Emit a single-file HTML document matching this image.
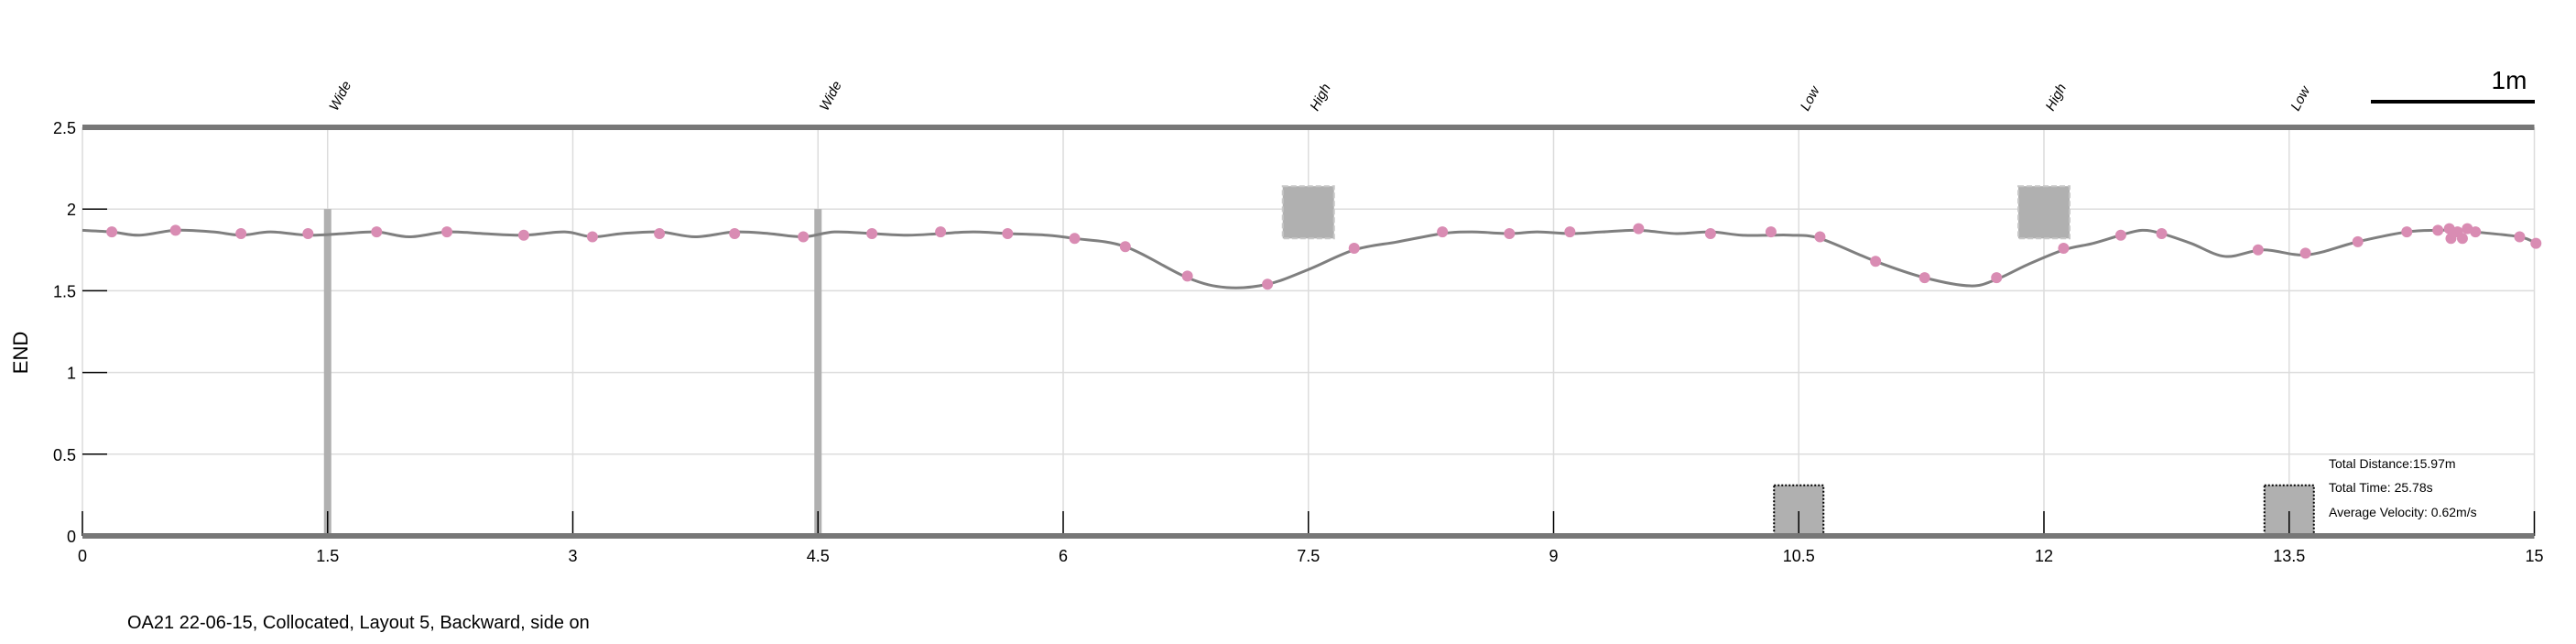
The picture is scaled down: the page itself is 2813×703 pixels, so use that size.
<!DOCTYPE html>
<html><head><meta charset="utf-8"><style>
body{margin:0;background:#fff;}
svg{display:block;font-family:"Liberation Sans",sans-serif;}
</style></head><body>
<svg id="chart" width="2813" height="703" viewBox="0 0 2813 703" xmlns="http://www.w3.org/2000/svg">
<g id="grid"></g>
<g id="obstacles"></g>
<g id="axes"></g>
<g id="series"></g>
<text transform="translate(30,385) rotate(-90)" text-anchor="middle" font-size="22">END</text>
<text x="139" y="686" font-size="20">OA21 22-06-15, Collocated, Layout 5, Backward, side on</text>
<g>
<line x1="2589" y1="111" x2="2768" y2="111" stroke="#000" stroke-width="4"/>
<text x="2740" y="97" font-size="28" text-anchor="middle">1m</text>
</g>
<g font-size="14">
<text x="2543" y="511">Total Distance:15.97m</text>
<text x="2543" y="537">Total Time: 25.78s</text>
<text x="2543" y="564">Average Velocity: 0.62m/s</text>
</g>
</svg>
<script>
const xTicks=[0,1.5,3,4.5,6,7.5,9,10.5,12,13.5,15];
const xTickLabels=["0","1.5","3","4.5","6","7.5","9","10.5","12","13.5","15"];
const yTicks=[0,0.5,1,1.5,2,2.5];
const yTickLabels=["0","0.5","1","1.5","2","2.5"];
const obstacleX=[1.5,4.5,7.5,10.5,12,13.5];
const obstacleLabels=["Wide","Wide","High","Low","High","Low"];
const obstacleTypes=["wide","wide","high","low","high","low"];
const lineX=[0,0.18,0.35,0.57,0.8,0.97,1.15,1.38,1.6,1.8,2.0,2.23,2.45,2.7,2.95,3.12,3.3,3.53,3.75,3.99,4.2,4.41,4.6,4.83,5.05,5.25,5.45,5.66,5.9,6.07,6.38,6.76,7.0,7.25,7.5,7.78,8.05,8.32,8.5,8.73,8.9,9.1,9.3,9.52,9.75,9.96,10.15,10.33,10.45,10.63,10.97,11.27,11.55,11.71,11.9,12.12,12.3,12.47,12.6,12.72,12.9,13.11,13.34,13.61,13.92,14.22,14.41,14.59,14.64,14.91,15.01];
const lineY=[1.87,1.86,1.84,1.87,1.86,1.84,1.86,1.84,1.85,1.86,1.83,1.86,1.85,1.84,1.86,1.83,1.85,1.86,1.83,1.86,1.85,1.83,1.86,1.85,1.84,1.85,1.86,1.85,1.84,1.82,1.77,1.58,1.52,1.54,1.63,1.75,1.80,1.85,1.86,1.85,1.86,1.85,1.86,1.87,1.85,1.86,1.84,1.84,1.84,1.82,1.68,1.58,1.53,1.57,1.66,1.75,1.79,1.84,1.87,1.85,1.79,1.71,1.75,1.72,1.80,1.86,1.87,1.87,1.86,1.83,1.79];
const markerX=[0.18,0.57,0.97,1.38,1.8,2.23,2.7,3.12,3.53,3.99,4.41,4.83,5.25,5.66,6.07,6.38,6.76,7.25,7.78,8.32,8.73,9.1,9.52,9.96,10.33,10.63,10.97,11.27,11.71,12.12,12.47,12.72,13.31,13.6,13.92,14.22,14.41,14.48,14.49,14.53,14.56,14.59,14.64,14.91,15.01];
const markerY=[1.86,1.87,1.85,1.85,1.86,1.86,1.84,1.83,1.85,1.85,1.83,1.85,1.86,1.85,1.82,1.77,1.59,1.54,1.76,1.86,1.85,1.86,1.88,1.85,1.86,1.83,1.68,1.58,1.58,1.76,1.84,1.85,1.75,1.73,1.80,1.86,1.87,1.88,1.82,1.86,1.82,1.88,1.86,1.83,1.79];
const NS="http://www.w3.org/2000/svg";
const X=v=>90+v*178.5, Y=v=>585-v*178.4;
function mk(tag,attrs,parent,txt){const e=document.createElementNS(NS,tag);for(const k in attrs)e.setAttribute(k,attrs[k]);if(txt!==undefined)e.textContent=txt;parent.appendChild(e);return e;}
const grid=document.getElementById('grid'),axes=document.getElementById('axes'),obs=document.getElementById('obstacles'),ser=document.getElementById('series');
xTicks.forEach((t,i)=>{
 let g=mk('line',{x1:X(t),x2:X(t),y1:Y(2.5),y2:Y(0),stroke:'#dcdcdc','stroke-width':1.5},grid);
 
 
 let tk=mk('line',{x1:X(t),x2:X(t),y1:Y(0),y2:Y(0)-27,stroke:'#000','stroke-width':1.5},axes);
 
 
 let lb=mk('text',{x:X(t),y:613,'font-size':18,'text-anchor':'middle'},axes,xTickLabels[i]);
 
 
});
yTicks.forEach((t,i)=>{
 let g=mk('line',{x1:X(0),x2:X(15),y1:Y(t),y2:Y(t),stroke:'#dcdcdc','stroke-width':1.5},grid);
 
 
 let tk=mk('line',{x1:X(0),x2:X(0)+27,y1:Y(t),y2:Y(t),stroke:'#000','stroke-width':1.5},axes);
 
 
 let lb=mk('text',{x:83,y:Y(t)+7,'font-size':18,'text-anchor':'end'},axes,yTickLabels[i]);
 
 
});
[0,2.5].forEach(v=>{
 let b=mk('line',{x1:X(0),x2:X(15),y1:Y(v),y2:Y(v),stroke:'#777','stroke-width':6},axes);
 
 
});
obstacleX.forEach((o,i)=>{
 const t=obstacleTypes[i];let r;
 if(t==='wide'){r=mk('rect',{x:X(o)-4,y:Y(2),width:8,height:Y(0)-Y(2),fill:'#b0b0b0'},obs);}
 else if(t==='high'){r=mk('rect',{x:X(o)-28,y:Y(2.14),width:56,height:Y(1.82)-Y(2.14),fill:'#b0b0b0',stroke:'#c8c8c8','stroke-width':2,'stroke-dasharray':'6 3'},obs);}
 else{r=mk('rect',{x:X(o)-27,y:Y(0.31),width:54,height:Y(0)-Y(0.31),fill:'#b0b0b0',stroke:'#000','stroke-width':2,'stroke-dasharray':'2 2'},obs);}
 
 
 let lb=mk('text',{transform:`translate(${X(o)+10},122) rotate(-62)`,'font-size':15,'font-style':'italic'},obs,obstacleLabels[i]);
 
 
});
// smooth path (Catmull-Rom)
const pts=lineX.map((x,i)=>[X(x),Y(lineY[i])]);
let d=`M${pts[0][0]},${pts[0][1]}`;
for(let i=0;i<pts.length-1;i++){const p0=pts[Math.max(0,i-1)],p1=pts[i],p2=pts[i+1],p3=pts[Math.min(pts.length-1,i+2)];
 d+=` C${p1[0]+(p2[0]-p0[0])/6},${p1[1]+(p2[1]-p0[1])/6} ${p2[0]-(p3[0]-p1[0])/6},${p2[1]-(p3[1]-p1[1])/6} ${p2[0]},${p2[1]}`;}
const path=mk('path',{d:d,fill:'none',stroke:'#7f7f7f','stroke-width':3},ser);


markerX.forEach((x,i)=>{
 const c=mk('circle',{cx:X(x),cy:Y(markerY[i]),r:6,fill:'#d98cb3'},ser);
 
 
});
</script>
</body></html>
